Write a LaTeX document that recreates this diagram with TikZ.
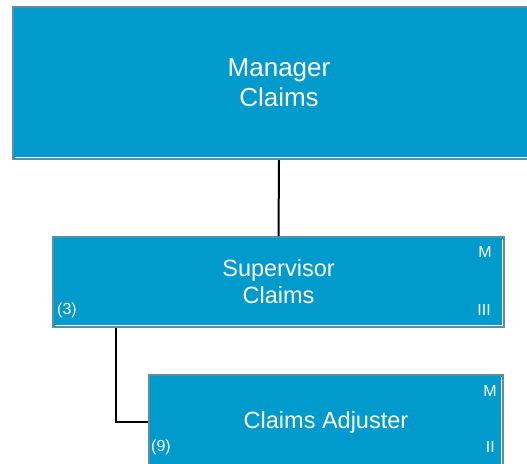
\documentclass[tikz,border=0pt]{standalone}
\usepackage{fontspec}
\setmainfont{Liberation Sans}
\usetikzlibrary{positioning}
\definecolor{boxblue}{HTML}{009ACD}
\definecolor{boxedge}{HTML}{5A8FA8}
\tikzstyle{block} = [rectangle, draw=boxedge, line width=2pt, fill=boxblue,
    text=white, align=center, inner sep=0pt]
\tikzstyle{tag} = [text=white, inner sep=0pt, font=\fontsize{16}{18}\selectfont]
\tikzstyle{line} = [draw, black, line width=2pt]
\newcommand{\boxrim}[1]{\draw[white, line width=1pt]
    ([xshift=2.5pt,yshift=2.5pt]#1.south west) -- ([xshift=-2.5pt,yshift=2.5pt]#1.south east)
    -- ([xshift=-2.5pt,yshift=-2.5pt]#1.north east);}

\begin{document}
\begin{tikzpicture}[x=1pt, y=-1pt]
		\useasboundingbox (0,0) rectangle (527,463);
		\node [block, minimum width=532pt, minimum height=152pt, font=\fontsize{26}{30}\selectfont] (manager) at (279,83) {Manager\\Claims};
		\node [block, minimum width=451pt, minimum height=90pt, font=\fontsize{23.5}{27}\selectfont] (supervisor) at (278.5,282) {Supervisor\\Claims};
		\node [block, minimum width=354pt, minimum height=94pt, font=\fontsize{23.5}{27}\selectfont] (adjuster) at (326,422) {Claims Adjuster};
		\boxrim{manager}
		\boxrim{supervisor}
		\boxrim{adjuster}
		
		\node [tag, anchor=east] (supM) at (492,252) {M};
		\node [tag, anchor=east] (supIII) at (491,310) {III};
		\node [tag, anchor=west] (supCount) at (57,310) {(3)};
		\node [tag, anchor=east] (adjM) at (497,391) {M};
		\node [tag, anchor=east] (adjII) at (495,447) {II};
		\node [tag, anchor=west] (adjCount) at (151,447) {(9)};
		
		\path [line] (manager.south) -- (supervisor.north);
		\path [line] ([xshift=64pt]supervisor.south west) |- (adjuster.west);
	\end{tikzpicture}
\end{document}
